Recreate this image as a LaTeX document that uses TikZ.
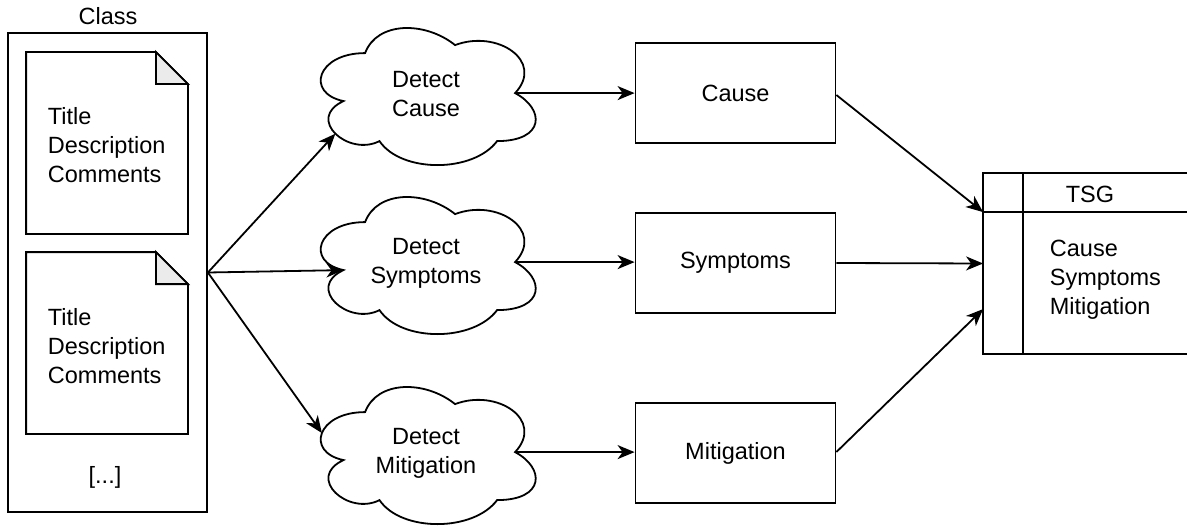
\documentclass[tikz,border=0pt]{standalone}
\usepackage{fontspec}
\setmainfont{Liberation Sans}
\usetikzlibrary{arrows.meta,calc}
\definecolor{foldgray}{HTML}{EBEBEB}
\newcommand{\drawcloud}[1]{%
\begin{scope}[shift={(#1.north west)},xscale=240,yscale=160]
\draw (0.25,0.25) .. controls (0.05,0.25) and (0,0.5) .. (0.16,0.55)
 .. controls (0,0.66) and (0.18,0.9) .. (0.31,0.8)
 .. controls (0.4,1) and (0.7,1) .. (0.8,0.8)
 .. controls (1,0.8) and (1,0.6) .. (0.875,0.5)
 .. controls (1,0.3) and (0.8,0.1) .. (0.625,0.2)
 .. controls (0.5,0.05) and (0.3,0.05) .. (0.25,0.25) -- cycle;
\coordinate (#1-l) at (0.16,0.55);
\coordinate (#1-r) at (0.875,0.5);
\coordinate (#1-a) at (0.126,0.754);
\coordinate (#1-b) at (0.07,0.381);
\end{scope}}
\newcommand{\drawdoc}[1]{%
\draw (#1.north west) -- ([xshift=-32pt]#1.north east) -- ([yshift=-32pt]#1.north east) -- (#1.south east) -- (#1.south west) -- cycle;
\draw[fill=foldgray] ([xshift=-32pt]#1.north east) -- ([xshift=-32pt,yshift=-32pt]#1.north east) -- ([yshift=-32pt]#1.north east) -- cycle;}
\begin{document}
\begin{tikzpicture}[x=1pt,y=-1pt,
  line width=1.8pt,
  every node/.style={font=\fontsize{23.5}{29}\selectfont},
  arr/.style={-{Stealth[length=17pt,width=14pt,inset=5pt]}},
  box/.style={draw, minimum width=200pt, minimum height=100pt, inner sep=0pt},
  cloudbox/.style={minimum width=240pt, minimum height=160pt, inner sep=0pt, align=center},
  docbox/.style={minimum width=160pt, minimum height=180pt, inner sep=0pt},
  lbl/.style={align=left, inner sep=0pt},
]
\useasboundingbox (0,0) rectangle (1187,527);
% Class container
\node[draw, minimum width=199pt, minimum height=479pt, inner sep=0pt] (cls) at (107.5,272.5) {};
\node (clst) at (108,16) {Class};
\node[docbox] (d1) at (107,143) {};
\drawdoc{d1}
\node[lbl, anchor=west] (d1t) at (47,145) {Title\\Description\\Comments};
\node[docbox] (d2) at (107,343) {};
\drawdoc{d2}
\node[lbl, anchor=west] (d2t) at (47,346) {Title\\Description\\Comments};
\node (more) at (105,477) {[...]};
% clouds
\node[cloudbox] (c1) at (426,94) {Detect\\Cause};
\drawcloud{c1}
\node[cloudbox] (c2) at (426,263) {Detect\\Symptoms};
\drawcloud{c2}
\node[cloudbox] (c3) at (426,453) {Detect\\Mitigation};
\drawcloud{c3}
% boxes
\node[box] (r1) at (735.5,93) {Cause};
\node[box] (r2) at (735.5,263) {Symptoms};
\node[box] (r3) at (735.5,453) {Mitigation};
% TSG
\node[minimum width=203pt, minimum height=179pt, inner sep=0pt] (tsg) at (1085.5,263.5) {};
\draw (tsg.north east) -- (tsg.north west) -- (tsg.south west) -- (tsg.south east);
\draw ([yshift=-39pt]tsg.north west) coordinate (tsgh) -- ([yshift=-39pt]tsg.north east);
\draw ([xshift=40pt]tsg.north west) -- ([xshift=40pt]tsg.south west);
\coordinate (tsgm) at ([yshift=-136pt]tsg.north west);
\node (tsgt) at (1090,194) {TSG};
\node[lbl, anchor=west] (tsgb) at (1049,280) {Cause\\Symptoms\\Mitigation};
% connectors
\draw[arr] (cls.east) -- (c1-a);
\draw[arr] (cls.east) -- (c2-l);
\draw[arr] (cls.east) -- (c3-b);
\draw[arr] (c1-r) -- (c1-r -| r1.west);
\draw[arr] (c2-r) -- (c2-r -| r2.west);
\draw[arr] (c3-r) -- (c3-r -| r3.west);
\draw[arr] ([yshift=-2pt]r1.east) -- (tsgh);
\draw[arr] (r2.east) -- (tsg.west);
\draw[arr] ([yshift=1pt]r3.east) -- (tsgm);
\end{tikzpicture}
\end{document}
